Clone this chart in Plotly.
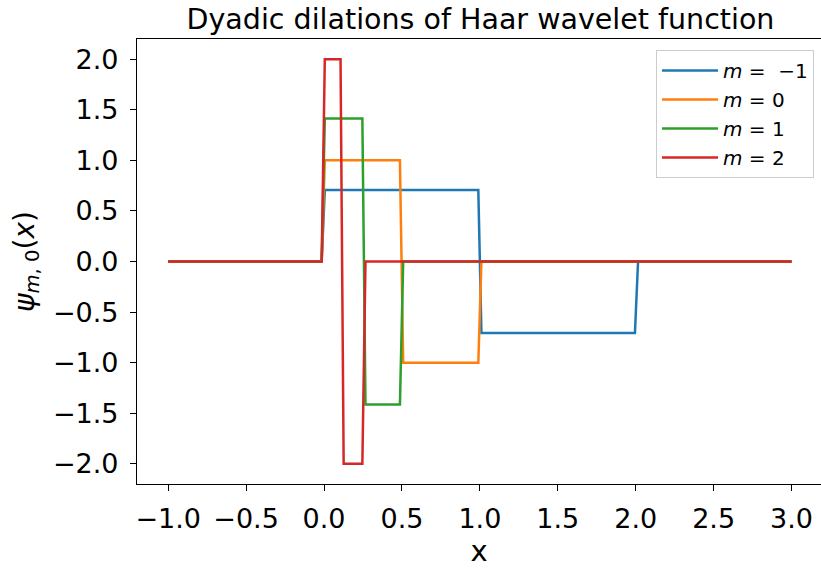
import plotly.graph_objects as go

# Sampled Haar wavelet dilations psi_{m,0}(x): breakpoints of each step curve
x_m_neg1 = [-1.0, -0.015, 0.005, 0.990, 1.010, 1.995, 2.015, 3.0]
psi_m_neg1 = [0.0, 0.0, 0.707, 0.707, -0.707, -0.707, 0.0, 0.0]

x_m0 = [-1.0, -0.015, 0.005, 0.487, 0.508, 0.990, 1.010, 3.0]
psi_m0 = [0.0, 0.0, 1.0, 1.0, -1.0, -1.0, 0.0, 0.0]

x_m1 = [-1.0, -0.015, 0.005, 0.246, 0.266, 0.487, 0.508, 3.0]
psi_m1 = [0.0, 0.0, 1.414, 1.414, -1.414, -1.414, 0.0, 0.0]

x_m2 = [-1.0, -0.015, 0.005, 0.106, 0.126, 0.246, 0.266, 3.0]
psi_m2 = [0.0, 0.0, 2.0, 2.0, -2.0, -2.0, 0.0, 0.0]

NB = "\u00a0"
series = [
    (f"<i>m</i>{NB}={NB}{NB}−1", x_m_neg1, psi_m_neg1, "#1f77b4"),
    (f"<i>m</i>{NB}={NB}0", x_m0, psi_m0, "#ff7f0e"),
    (f"<i>m</i>{NB}={NB}1", x_m1, psi_m1, "#2ca02c"),
    (f"<i>m</i>{NB}={NB}2", x_m2, psi_m2, "#d62728"),
]

x_ticks = [-1.0, -0.5, 0.0, 0.5, 1.0, 1.5, 2.0, 2.5, 3.0]
y_ticks = [-2.0, -1.5, -1.0, -0.5, 0.0, 0.5, 1.0, 1.5, 2.0]

FONT = "DejaVu Sans"

fig = go.Figure()
for name, xs, ys, color in series:
    fig.add_trace(go.Scatter(
        x=xs, y=ys, mode="lines", name=name,
        line=dict(color=color, width=2.5),
    ))

axis_common = dict(
    showgrid=False, zeroline=False,
    showline=True, linecolor="black", linewidth=1.3,
    ticks="outside", ticklen=6, tickwidth=1.2, tickcolor="black",
    tickfont=dict(family=FONT, size=27, color="black"),
)

fig.update_layout(
    width=821, height=570,
    margin=dict(l=137, r=0, t=39, b=86),
    paper_bgcolor="white", plot_bgcolor="white",
    font=dict(family=FONT, color="black"),
    title=dict(
        text="Dyadic dilations of Haar wavelet function",
        font=dict(family=FONT, size=28.5, color="black"),
        x=(137 + 824) / 2 / 821, xanchor="center",
        y=1 - 19 / 570, yanchor="middle", yref="container",
    ),
    xaxis=dict(
        **axis_common,
        range=[-1.2, -1.2 + 684 / 155.85],
        tickvals=x_ticks,
        ticktext=[f"{v:.1f}".replace("-", "−") for v in x_ticks],
        mirror=True,
        ticklabelstandoff=4,
        title=dict(text="x", font=dict(family=FONT, size=29), standoff=5),
    ),
    yaxis=dict(
        **axis_common,
        range=[-2.2, 2.2],
        tickvals=y_ticks,
        ticktext=[f"{v:.1f}".replace("-", "−") for v in y_ticks],
        ticklabelstandoff=6,
        title=dict(
            text="<i>ψ</i><sub><i>m</i>, 0</sub>(<i>x</i>)",
            font=dict(family=FONT, size=28), standoff=10,
        ),
    ),
    legend=dict(
        x=(814 - 137) / 684, xanchor="right",
        y=1 - (50 - 39) / 445.5, yanchor="top",
        bgcolor="rgba(255,255,255,0.8)",
        bordercolor="#cccccc", borderwidth=1,
        font=dict(family=FONT, size=20, color="black"),
        itemwidth=56,
    ),
    showlegend=True,
)

fig.write_html("out.html")
